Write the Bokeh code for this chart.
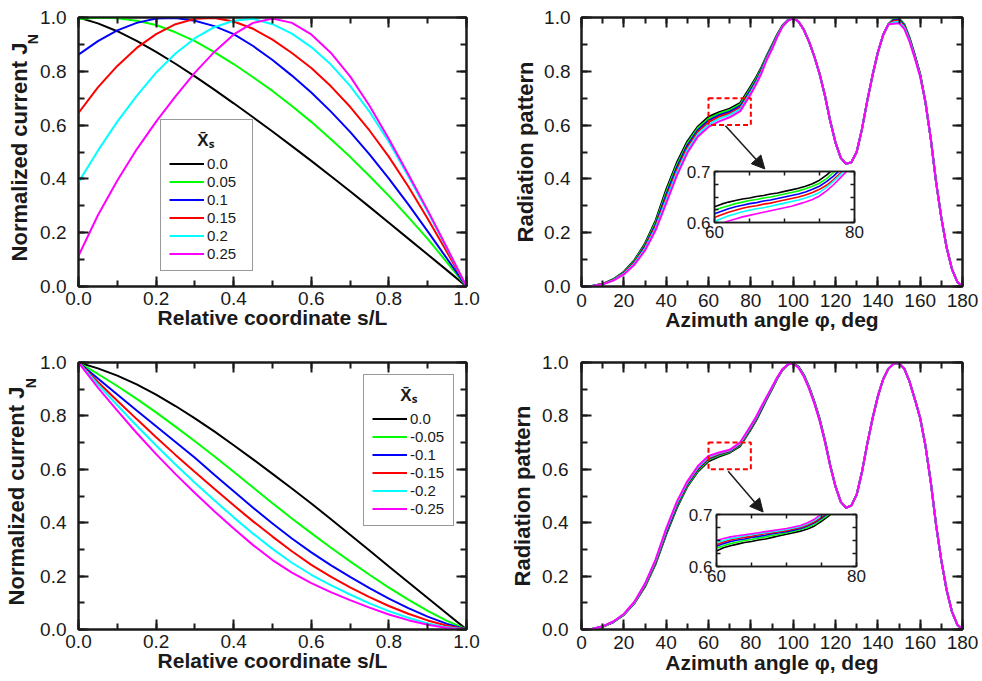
from bokeh.plotting import figure
from bokeh.models import (Range1d, LinearAxis, SingleIntervalTicker, FixedTicker,
                          PrintfTickFormatter, Legend, LegendItem, Arrow,
                          NormalHead, GridBox)
from bokeh.embed import file_html
from bokeh.resources import INLINE

FONT = "Liberation Sans"
INK = "#1a1a1a"
COLORS = ["#000000", "#00ff00", "#0000ff", "#ff0000", "#00ffff", "#ff00ff"]

# ---------------- data: normalized current ----------------
s_rel = [0.0, 0.05, 0.1, 0.15, 0.2, 0.25, 0.3, 0.35, 0.4, 0.45, 0.5,
         0.55, 0.6, 0.65, 0.7, 0.75, 0.8, 0.85, 0.9, 0.95, 1.0]

xs_pos_labels = ["0.0", "0.05", "0.1", "0.15", "0.2", "0.25"]
xs_neg_labels = ["0.0", "-0.05", "-0.1", "-0.15", "-0.2", "-0.25"]

cur_p000 = [1.0, 0.978, 0.949, 0.913, 0.872, 0.828, 0.781, 0.732, 0.681, 0.629, 0.576,
            0.522, 0.467, 0.411, 0.354, 0.296, 0.237, 0.178, 0.119, 0.060, 0.0]
cur_p005 = [0.994, 0.999, 0.997, 0.988, 0.972, 0.945, 0.912, 0.871, 0.827, 0.778, 0.727,
            0.671, 0.612, 0.548, 0.482, 0.411, 0.337, 0.258, 0.177, 0.089, 0.0]
cur_p010 = [0.862, 0.912, 0.952, 0.980, 0.996, 0.998, 0.988, 0.968, 0.938, 0.894, 0.842,
            0.784, 0.721, 0.651, 0.575, 0.491, 0.401, 0.305, 0.205, 0.103, 0.0]
cur_p015 = [0.645, 0.740, 0.820, 0.887, 0.938, 0.975, 0.995, 0.998, 0.985, 0.958, 0.918,
            0.868, 0.812, 0.745, 0.668, 0.580, 0.482, 0.372, 0.252, 0.127, 0.0]
cur_p020 = [0.388, 0.505, 0.613, 0.709, 0.795, 0.866, 0.923, 0.964, 0.988, 0.995, 0.975,
            0.940, 0.890, 0.826, 0.746, 0.650, 0.537, 0.410, 0.278, 0.140, 0.0]
cur_p025 = [0.114, 0.265, 0.394, 0.510, 0.613, 0.707, 0.795, 0.872, 0.937, 0.980, 0.996,
            0.980, 0.937, 0.869, 0.781, 0.672, 0.548, 0.417, 0.283, 0.143, 0.0]

cur_n000 = [1.0, 0.978, 0.951, 0.918, 0.880, 0.837, 0.791, 0.742, 0.690, 0.637, 0.583,
            0.528, 0.472, 0.414, 0.355, 0.296, 0.236, 0.177, 0.118, 0.059, 0.0]
cur_n005 = [1.0, 0.957, 0.912, 0.864, 0.813, 0.760, 0.705, 0.649, 0.591, 0.532, 0.473,
            0.416, 0.361, 0.307, 0.255, 0.205, 0.157, 0.112, 0.070, 0.032, 0.0]
cur_n010 = [1.0, 0.940, 0.880, 0.820, 0.761, 0.702, 0.643, 0.580, 0.518, 0.456, 0.397,
            0.341, 0.289, 0.241, 0.197, 0.155, 0.116, 0.080, 0.048, 0.021, 0.0]
cur_n015 = [1.0, 0.927, 0.857, 0.788, 0.720, 0.654, 0.590, 0.527, 0.465, 0.405, 0.348,
            0.293, 0.242, 0.198, 0.158, 0.121, 0.088, 0.059, 0.034, 0.014, 0.0]
cur_n020 = [1.0, 0.918, 0.840, 0.763, 0.689, 0.618, 0.550, 0.484, 0.420, 0.359, 0.302,
            0.250, 0.205, 0.166, 0.131, 0.098, 0.069, 0.044, 0.023, 0.008, 0.0]
cur_n025 = [1.0, 0.906, 0.820, 0.736, 0.657, 0.582, 0.511, 0.443, 0.378, 0.316, 0.260,
            0.213, 0.174, 0.140, 0.110, 0.082, 0.056, 0.035, 0.018, 0.006, 0.0]

# ---------------- data: radiation pattern ----------------
phi = [0, 5, 10, 15, 20, 25, 30, 35, 40, 45, 50, 55, 60, 65, 70, 75,
       80, 82.5, 85, 87.5, 90, 92.5, 95, 97.5, 100, 102.5, 105, 107.5, 110, 112.5,
       115, 117.5, 120, 122.5, 125, 127.5, 130, 132.5, 135, 137.5, 140, 142.5, 145,
       147.5, 150, 152.5, 155, 157.5, 160, 162.5, 165, 167.5, 170, 172.5, 175, 177.5, 180]

rad_p000 = [0, 0.002, 0.010, 0.027, 0.055, 0.098, 0.160, 0.245, 0.360, 0.460, 0.540, 0.595, 0.631, 0.648, 0.661, 0.683,
            0.745, 0.778, 0.815, 0.858, 0.898, 0.938, 0.971, 0.991, 0.998,
            0.985, 0.955, 0.910, 0.855, 0.790, 0.710, 0.615, 0.535, 0.478, 0.456, 0.462, 0.500, 0.585, 0.690, 0.785, 0.870, 0.935, 0.975,
            0.995, 0.997, 0.975, 0.925, 0.860, 0.790,
            0.685, 0.550, 0.390, 0.255, 0.145, 0.065, 0.018, 0.0]
rad_p005 = [0, 0.002, 0.010, 0.026, 0.053, 0.095, 0.155, 0.238, 0.350, 0.451, 0.532, 0.589, 0.624, 0.643, 0.656, 0.677,
            0.738, 0.772, 0.811, 0.855, 0.895, 0.936, 0.970, 0.990, 0.998,
            0.985, 0.955, 0.910, 0.855, 0.790, 0.710, 0.615, 0.535, 0.478, 0.456, 0.462, 0.500, 0.585, 0.690, 0.785, 0.870, 0.935, 0.975,
            0.994, 0.996, 0.974, 0.924, 0.859, 0.789,
            0.685, 0.550, 0.390, 0.255, 0.145, 0.065, 0.018, 0.0]
rad_p010 = [0, 0.002, 0.009, 0.025, 0.051, 0.091, 0.150, 0.231, 0.340, 0.442, 0.524, 0.582, 0.617, 0.637, 0.650, 0.671,
            0.731, 0.766, 0.806, 0.852, 0.892, 0.934, 0.969, 0.990, 0.998,
            0.985, 0.955, 0.910, 0.855, 0.790, 0.710, 0.615, 0.535, 0.478, 0.456, 0.462, 0.500, 0.585, 0.690, 0.785, 0.870, 0.935, 0.975,
            0.991, 0.993, 0.971, 0.921, 0.857, 0.787,
            0.685, 0.550, 0.390, 0.255, 0.145, 0.065, 0.018, 0.0]
rad_p015 = [0, 0.001, 0.009, 0.024, 0.049, 0.088, 0.145, 0.224, 0.330, 0.432, 0.516, 0.575, 0.610, 0.631, 0.644, 0.665,
            0.724, 0.760, 0.801, 0.849, 0.889, 0.932, 0.968, 0.989, 0.998,
            0.985, 0.955, 0.910, 0.855, 0.790, 0.710, 0.615, 0.535, 0.478, 0.456, 0.462, 0.500, 0.585, 0.690, 0.785, 0.870, 0.935, 0.975,
            0.987, 0.989, 0.967, 0.918, 0.854, 0.785,
            0.685, 0.550, 0.390, 0.255, 0.145, 0.065, 0.018, 0.0]
rad_p020 = [0, 0.001, 0.008, 0.023, 0.047, 0.085, 0.140, 0.217, 0.320, 0.422, 0.507, 0.567, 0.602, 0.624, 0.638, 0.659,
            0.722, 0.757, 0.797, 0.846, 0.886, 0.930, 0.967, 0.989, 0.997,
            0.985, 0.955, 0.910, 0.855, 0.790, 0.710, 0.615, 0.535, 0.478, 0.456, 0.462, 0.500, 0.585, 0.690, 0.785, 0.870, 0.935, 0.975,
            0.982, 0.984, 0.963, 0.914, 0.851, 0.783,
            0.685, 0.550, 0.390, 0.255, 0.145, 0.065, 0.018, 0.0]
rad_p025 = [0, 0.001, 0.008, 0.022, 0.045, 0.081, 0.134, 0.209, 0.309, 0.411, 0.497, 0.558, 0.593, 0.614, 0.629, 0.652,
            0.716, 0.752, 0.792, 0.842, 0.882, 0.928, 0.966, 0.988, 0.997,
            0.985, 0.955, 0.910, 0.855, 0.790, 0.710, 0.615, 0.535, 0.478, 0.456, 0.462, 0.500, 0.585, 0.690, 0.785, 0.870, 0.935, 0.975,
            0.977, 0.979, 0.958, 0.910, 0.848, 0.780,
            0.685, 0.550, 0.390, 0.255, 0.145, 0.065, 0.018, 0.0]

rad_n000 = [0, 0.002, 0.010, 0.027, 0.055, 0.098, 0.160, 0.245, 0.355, 0.455, 0.535, 0.592, 0.630, 0.648, 0.662, 0.687,
            0.749, 0.783, 0.822, 0.862, 0.900, 0.940, 0.972, 0.992, 0.998, 0.985, 0.955, 0.910, 0.855, 0.790, 0.710, 0.616, 0.537,
            0.478, 0.456, 0.464, 0.505, 0.590, 0.695, 0.790, 0.873, 0.937, 0.977, 0.996, 0.998,
            0.977, 0.928, 0.862, 0.792, 0.688, 0.553, 0.393, 0.258, 0.148, 0.067, 0.019, 0.0]
rad_n005 = [0, 0.002, 0.010, 0.028, 0.055, 0.099, 0.162, 0.248, 0.360, 0.460, 0.539, 0.596, 0.635, 0.652, 0.665, 0.690,
            0.752, 0.786, 0.825, 0.864, 0.902, 0.941, 0.973, 0.992, 0.998, 0.984, 0.954, 0.908, 0.853, 0.788, 0.708, 0.615, 0.536,
            0.478, 0.456, 0.464, 0.505, 0.590, 0.695, 0.790, 0.873, 0.937, 0.977, 0.996, 0.998,
            0.977, 0.928, 0.862, 0.792, 0.688, 0.553, 0.393, 0.258, 0.148, 0.067, 0.019, 0.0]
rad_n010 = [0, 0.002, 0.011, 0.028, 0.056, 0.100, 0.165, 0.252, 0.364, 0.464, 0.543, 0.600, 0.639, 0.656, 0.667, 0.693,
            0.755, 0.788, 0.827, 0.866, 0.903, 0.942, 0.974, 0.993, 0.997, 0.983, 0.952, 0.906, 0.851, 0.786, 0.706, 0.614, 0.536,
            0.478, 0.456, 0.464, 0.505, 0.590, 0.695, 0.790, 0.873, 0.937, 0.977, 0.996, 0.998,
            0.977, 0.928, 0.862, 0.792, 0.688, 0.553, 0.393, 0.258, 0.148, 0.067, 0.019, 0.0]
rad_n015 = [0, 0.002, 0.011, 0.029, 0.056, 0.101, 0.167, 0.255, 0.369, 0.469, 0.547, 0.604, 0.642, 0.658, 0.669, 0.695,
            0.758, 0.791, 0.830, 0.868, 0.905, 0.943, 0.974, 0.993, 0.997, 0.982, 0.951, 0.905, 0.850, 0.785, 0.705, 0.613, 0.535,
            0.478, 0.456, 0.464, 0.505, 0.590, 0.695, 0.790, 0.873, 0.937, 0.977, 0.996, 0.998,
            0.977, 0.928, 0.862, 0.792, 0.688, 0.553, 0.393, 0.258, 0.148, 0.067, 0.019, 0.0]
rad_n020 = [0, 0.002, 0.012, 0.029, 0.057, 0.102, 0.170, 0.259, 0.373, 0.473, 0.551, 0.608, 0.646, 0.661, 0.671, 0.698,
            0.761, 0.794, 0.832, 0.870, 0.906, 0.944, 0.975, 0.993, 0.996, 0.981, 0.950, 0.904, 0.849, 0.784, 0.704, 0.612, 0.535,
            0.478, 0.456, 0.464, 0.505, 0.590, 0.695, 0.790, 0.873, 0.937, 0.977, 0.996, 0.998,
            0.977, 0.928, 0.862, 0.792, 0.688, 0.553, 0.393, 0.258, 0.148, 0.067, 0.019, 0.0]
rad_n025 = [0, 0.002, 0.012, 0.030, 0.058, 0.104, 0.172, 0.262, 0.378, 0.478, 0.555, 0.612, 0.650, 0.663, 0.673, 0.701,
            0.764, 0.797, 0.835, 0.872, 0.908, 0.945, 0.976, 0.993, 0.996, 0.980, 0.948, 0.902, 0.847, 0.782, 0.703, 0.612, 0.535,
            0.478, 0.456, 0.464, 0.505, 0.590, 0.695, 0.790, 0.873, 0.937, 0.977, 0.996, 0.998,
            0.977, 0.928, 0.862, 0.792, 0.688, 0.553, 0.393, 0.258, 0.148, 0.067, 0.019, 0.0]

# ---------------- data: zoomed window (insets) ----------------
zoom_x = (60, 80)
zoom_y = (0.6, 0.7)
phi_zoom = [60, 61, 62, 63, 64, 65, 66, 67, 68, 69, 70, 71, 72, 73, 74, 75, 76, 77, 78, 79, 80]

zp000 = [0.631, 0.636, 0.640, 0.643, 0.646, 0.648, 0.651, 0.653, 0.656, 0.658, 0.661,
         0.664, 0.667, 0.671, 0.676, 0.683, 0.693, 0.705, 0.718, 0.731, 0.745]
zp005 = [0.624, 0.629, 0.633, 0.637, 0.640, 0.643, 0.645, 0.648, 0.650, 0.653, 0.656,
         0.659, 0.662, 0.666, 0.671, 0.677, 0.686, 0.698, 0.711, 0.724, 0.738]
zp010 = [0.617, 0.622, 0.627, 0.631, 0.634, 0.637, 0.639, 0.642, 0.644, 0.647, 0.650,
         0.653, 0.656, 0.660, 0.665, 0.671, 0.680, 0.691, 0.704, 0.717, 0.731]
zp015 = [0.610, 0.615, 0.620, 0.624, 0.628, 0.631, 0.633, 0.636, 0.638, 0.641, 0.644,
         0.647, 0.650, 0.654, 0.659, 0.665, 0.673, 0.684, 0.697, 0.710, 0.724]
zp020 = [0.602, 0.608, 0.613, 0.617, 0.621, 0.624, 0.627, 0.629, 0.632, 0.635, 0.638,
         0.641, 0.644, 0.648, 0.653, 0.659, 0.669, 0.681, 0.694, 0.708, 0.722]
zp025 = [0.593, 0.598, 0.603, 0.607, 0.611, 0.614, 0.617, 0.620, 0.623, 0.626, 0.629,
         0.632, 0.636, 0.640, 0.645, 0.652, 0.662, 0.674, 0.688, 0.702, 0.716]

zn000 = [0.630, 0.636, 0.640, 0.643, 0.646, 0.648, 0.651, 0.653, 0.656, 0.659, 0.662,
         0.665, 0.668, 0.672, 0.678, 0.687, 0.697, 0.709, 0.722, 0.735, 0.749]
zn005 = [0.635, 0.640, 0.644, 0.647, 0.650, 0.652, 0.655, 0.657, 0.660, 0.662, 0.665,
         0.668, 0.671, 0.675, 0.681, 0.690, 0.700, 0.712, 0.725, 0.738, 0.752]
zn010 = [0.639, 0.644, 0.648, 0.651, 0.653, 0.656, 0.658, 0.660, 0.663, 0.665, 0.667,
         0.670, 0.673, 0.678, 0.684, 0.693, 0.703, 0.715, 0.728, 0.741, 0.755]
zn015 = [0.642, 0.647, 0.651, 0.654, 0.656, 0.658, 0.661, 0.663, 0.665, 0.667, 0.669,
         0.672, 0.675, 0.680, 0.686, 0.695, 0.706, 0.718, 0.731, 0.744, 0.758]
zn020 = [0.646, 0.650, 0.654, 0.656, 0.659, 0.661, 0.663, 0.665, 0.667, 0.669, 0.671,
         0.674, 0.677, 0.682, 0.689, 0.698, 0.709, 0.721, 0.734, 0.747, 0.761]
zn025 = [0.650, 0.654, 0.657, 0.659, 0.661, 0.663, 0.665, 0.667, 0.669, 0.671, 0.673,
         0.676, 0.679, 0.684, 0.691, 0.701, 0.712, 0.724, 0.737, 0.750, 0.764]

cur_pos = [cur_p000, cur_p005, cur_p010, cur_p015, cur_p020, cur_p025]
cur_neg = [cur_n000, cur_n005, cur_n010, cur_n015, cur_n020, cur_n025]
rad_pos = [rad_p000, rad_p005, rad_p010, rad_p015, rad_p020, rad_p025]
rad_neg = [rad_n000, rad_n005, rad_n010, rad_n015, rad_n020, rad_n025]
zoom_pos = [zp000, zp005, zp010, zp015, zp020, zp025]
zoom_neg = [zn000, zn005, zn010, zn015, zn020, zn025]

LEGEND_TITLE = "\u00a0" * 6 + "X\u0304\u209b"
YLABEL_MAIN = "Normalized current J"
YLABEL_SUB = "\u00a0" * 58 + "N"   # subscript N, pushed toward the top end of the centred title


def style_axis(ax, tick_in, minor_in, width, label_size):
    ax.axis_line_color = INK
    ax.axis_line_width = width
    ax.major_tick_line_color = INK
    ax.minor_tick_line_color = INK
    ax.major_tick_line_width = width
    ax.minor_tick_line_width = width
    ax.major_tick_in = tick_in
    ax.major_tick_out = 0
    ax.minor_tick_in = minor_in
    ax.minor_tick_out = 0
    ax.major_label_text_font = FONT
    ax.major_label_text_font_size = label_size
    ax.major_label_text_color = INK
    ax.axis_label_text_font = FONT
    ax.axis_label_text_font_size = "21px"
    ax.axis_label_text_font_style = "bold"
    ax.axis_label_text_color = INK


def add_mirrors(p, xt, yt, tick_in, minor_in, width):
    top = LinearAxis(ticker=xt)
    right = LinearAxis(ticker=yt)
    for ax in (top, right):
        style_axis(ax, tick_in, minor_in, width, "1px")
        ax.major_label_text_color = None
        ax.major_label_standoff = 0
    p.add_layout(top, "above")
    p.add_layout(right, "right")


def main_fig(width, height, x_end, x_step, borders, fmt_x):
    l, r, t, b = borders
    p = figure(width=width, height=height, x_range=Range1d(0, x_end), y_range=Range1d(0, 1),
               output_backend="svg", toolbar_location=None,
               min_border_left=l, min_border_right=r, min_border_top=t, min_border_bottom=b)
    p.grid.visible = False
    p.background_fill_color = "white"
    p.border_fill_color = "white"
    p.outline_line_color = INK
    p.outline_line_width = 2
    xt = SingleIntervalTicker(interval=x_step, num_minor_ticks=2)
    yt = SingleIntervalTicker(interval=0.2, num_minor_ticks=2)
    p.below[0].ticker = xt
    p.left[0].ticker = yt
    p.below[0].formatter = PrintfTickFormatter(format=fmt_x)
    p.left[0].formatter = PrintfTickFormatter(format="%.1f")
    for ax in (p.below[0], p.left[0]):
        style_axis(ax, 10, 6, 2, "19px")
    add_mirrors(p, xt, yt, 10, 6, 2)
    return p


def style_legend(lg, label_width):
    lg.border_line_color = "#333333"
    lg.border_line_width = 1
    lg.background_fill_color = "white"
    lg.background_fill_alpha = 1.0
    lg.label_text_font = FONT
    lg.label_text_font_size = "15px"
    lg.label_text_color = INK
    lg.glyph_width = 35
    lg.glyph_height = 17
    lg.label_height = 17
    lg.label_width = label_width
    lg.label_standoff = 3
    lg.spacing = 1
    lg.padding = 8
    lg.margin = 0
    lg.title_text_font = FONT
    lg.title_text_font_size = "17px"
    lg.title_text_font_style = "bold"
    lg.title_text_color = INK
    lg.title_standoff = 4


def current_panel(borders, series, labels, leg_loc, leg_w, height, sub_standoff, main_standoff):
    p = main_fig(491, height, 1.0, 0.2, borders, "%.1f")
    p.below[0].axis_label = "Relative coordinate s/L"
    inner = p.left[0]
    inner.major_label_standoff = 12
    inner.axis_label = YLABEL_SUB
    inner.axis_label_text_font_size = "14px"
    inner.axis_label_standoff = sub_standoff
    outer = LinearAxis(ticker=FixedTicker(ticks=[]), axis_label=YLABEL_MAIN)
    style_axis(outer, 0, 0, 1, "1px")
    outer.axis_line_color = None
    outer.major_tick_line_color = None
    outer.minor_tick_line_color = None
    outer.major_label_text_color = None
    outer.major_label_standoff = 0
    outer.axis_label_text_font_size = "22px"
    outer.axis_label_standoff = main_standoff
    p.add_layout(outer, "left")
    rs = []
    for ys, c in zip(series, COLORS):
        rs.append(p.line(s_rel, ys, line_color=c, line_width=2))
    lg = Legend(items=[LegendItem(label=lab, renderers=[r]) for lab, r in zip(labels, rs)],
                location=leg_loc, title=LEGEND_TITLE)
    style_legend(lg, leg_w)
    p.add_layout(lg, "center")
    return p


def pattern_panel(borders, series, height, arrow):
    p = main_fig(491, height, 180, 20, borders, "%d")
    p.below[0].axis_label = "Azimuth angle \u03c6, deg"
    p.left[0].axis_label = "Radiation pattern"
    p.left[0].axis_label_text_font_size = "22px"
    p.left[0].major_label_standoff = 11
    for ys, c in zip(series, COLORS):
        p.line(phi, ys, line_color=c, line_width=2)
    p.quad(left=zoom_x[0], right=zoom_x[1], bottom=zoom_y[0], top=zoom_y[1],
           fill_color=None, line_color="#ff0000", line_width=2, line_dash="5 3")
    xs, ys0, xe, ye = arrow
    p.add_layout(Arrow(end=NormalHead(size=13, fill_color=INK, line_color=INK),
                       x_start=xs, y_start=ys0, x_end=xe, y_end=ye,
                       line_color=INK, line_width=1.5))
    return p


def inset_fig(height, series):
    p = figure(width=192, height=height, x_range=Range1d(*zoom_x), y_range=Range1d(*zoom_y),
               output_backend="svg", toolbar_location=None,
               min_border_left=32, min_border_right=20, min_border_top=12, min_border_bottom=26)
    p.grid.visible = False
    p.border_fill_color = None
    p.background_fill_color = "white"
    p.outline_line_color = INK
    p.outline_line_width = 1.5
    xt = FixedTicker(ticks=list(zoom_x), minor_ticks=[65, 70, 75])
    yt = FixedTicker(ticks=list(zoom_y), minor_ticks=[0.625, 0.65, 0.675])
    p.below[0].ticker = xt
    p.left[0].ticker = yt
    p.below[0].formatter = PrintfTickFormatter(format="%d")
    p.left[0].formatter = PrintfTickFormatter(format="%.1f")
    for ax in (p.below[0], p.left[0]):
        style_axis(ax, 4, 4, 1.5, "17px")
    add_mirrors(p, xt, yt, 4, 4, 1.5)
    p.below[0].major_label_standoff = 3
    p.left[0].major_label_standoff = 4
    for ys, c in zip(series, COLORS):
        p.line(phi_zoom, ys, line_color=c, line_width=1.6)
    return p


tl = current_panel((75, 24, 14, 52), cur_pos, xs_pos_labels, (82, 15), 37, 340, -4, -9)
tl.below[0].major_label_standoff = 5
tl.below[0].axis_label_standoff = -2

bl = current_panel((78, 25, 22, 49), cur_neg, xs_neg_labels, (285, 103), 35, 341, -2, -8)
bl.below[0].major_label_standoff = 5
bl.below[0].axis_label_standoff = -2

tr = pattern_panel((87, 19, 17, 54), rad_pos, 340, (68, 0.598, 86.6, 0.437))
tr.below[0].major_label_standoff = 7
tr.below[0].axis_label_standoff = -2
tr.left[0].axis_label_standoff = 3

br = pattern_panel((90, 19, 22, 52), rad_neg, 341, (69.3, 0.593, 85.8, 0.44))
br.below[0].major_label_standoff = 6
br.below[0].axis_label_standoff = -1
br.left[0].major_label_standoff = 13
br.left[0].axis_label_standoff = 4

ins_t = inset_fig(117, zoom_pos)
ins_b = inset_fig(116, zoom_neg)

grid = GridBox(children=[(tl, 0, 0, 2, 1), (tr, 0, 1, 2, 3),
                         (bl, 2, 0, 2, 1), (br, 2, 1, 2, 3),
                         (ins_t, 1, 2, 1, 2), (ins_b, 3, 3, 1, 1)],
               rows=["159px", "181px", "162px", "179px"],
               cols=["491px", "191px", "2px", "298px"],
               spacing=0, width=982, height=681)

open("out.html", "w").write(file_html(grid, INLINE))
